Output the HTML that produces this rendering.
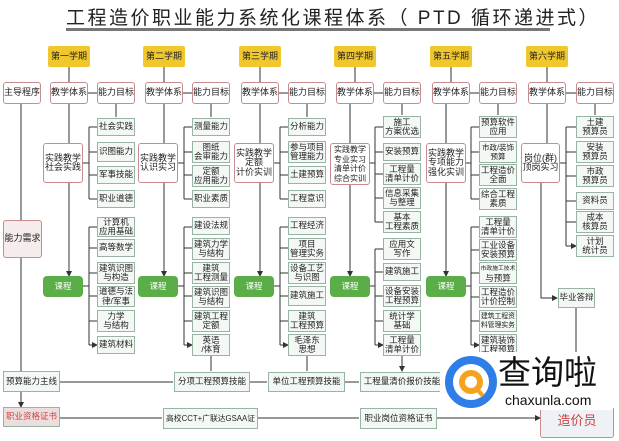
<!DOCTYPE html>
<html><head><meta charset="utf-8"><style>
body{margin:0;width:619px;height:441px;background:#fff;position:relative;overflow:hidden;font-family:"Liberation Sans","Noto Sans CJK SC",sans-serif;}
div.b{position:absolute;box-sizing:border-box;display:flex;align-items:center;justify-content:center;text-align:center;font-size:8.5px;line-height:9.5px;color:#222;white-space:nowrap;overflow:hidden;}
.p{border:1px solid #c98c8c;border-radius:3px;background:#fff;font-size:9px!important;}
.q{border:1px solid #98b4a3;background:#f4f8f5;}
.y{background:#f1c72e;border-radius:2px;font-size:9px!important;}
.c{background:#5aad47;color:#fff!important;border-radius:4px;}
svg{position:absolute;left:0;top:0}
</style></head><body>
<div style="position:absolute;left:66px;top:3px;width:490px;text-align:center;font-size:19px;letter-spacing:2.5px;color:#222;white-space:nowrap">工程造价职业能力系统化课程体系（ PTD 循环递进式）</div>
<div style="position:absolute;left:66px;top:28px;width:484px;height:3px;background:#777"></div>
<svg width="619" height="441"><defs><marker id="a" markerWidth="6" markerHeight="6" refX="5" refY="3" orient="auto"><path d="M0,0L6,3L0,6z" fill="#333"/></marker></defs>
<g stroke="#333" stroke-width="1" fill="none">
<g id="c0">
<path d="M69 67V82M88 93H97M116 104V117M69 104V143M69 183V276" marker-end="url(#a)"/>
<path d="M83 163H89M89 127V199M83 286H89M89 227V345"/>
<path d="M89 127H97M89 152H97M89 175H97M89 199H97M89 227H97M89 248H97M89 273H97M89 296H97M89 321H97M89 345H97" marker-end="url(#a)"/>
</g>
<use href="#c0" x="95"/><use href="#c0" x="191"/>
<path d="M211 356V371M307 356V371M402 356V371" marker-end="url(#a)"/>
<path d="M355 67V82M374 93H383M402 104V115M350 104V143M350 185V276" marker-end="url(#a)"/>
<path d="M370 163H375M375 127V222M370 286H375M375 249V345"/>
<path d="M375 127H383M375 152H383M375 174H383M375 198H383M375 222H383M375 249H383M375 272H383M375 296H383M375 321H383M375 345H383" marker-end="url(#a)"/>
<path d="M451 67V82M470 93H479M498 104V115M446 104V143M446 183V276" marker-end="url(#a)"/>
<path d="M466 163H471M471 127V199M466 286H471M471 227V345"/>
<path d="M471 127H479M471 152H479M471 175H479M471 199H479M471 227H479M471 250H479M471 273H479M471 297H479M471 321H479M471 345H479" marker-end="url(#a)"/>
<path d="M547 67V82M566 93H576M595 104V115M547 104V143M541 183V298H557" marker-end="url(#a)"/>
<path d="M560 163H566M566 127V246M576 308V372"/>
<path d="M566 127H576M566 152H576M566 176H576M566 201H576M566 222H576M566 246H576" marker-end="url(#a)"/>
<path d="M21 104V220M21 258V371M21 392V407" marker-end="url(#a)"/>
<path d="M60 382H173M250 382H267M345 382H359M444 382H470M60 418H162M258 418H359M437 418H540" marker-end="url(#a)"/>
</g></svg>

<div class="b p" style="left:3px;top:82px;width:38px;height:22px">主导程序</div>
<div class="b p" style="left:3px;top:220px;width:39px;height:38px;background:#f6ecec">能力需求</div>
<div class="b q" style="left:3px;top:371px;width:57px;height:21px">预算能力主线</div>
<div class="b q" style="left:3px;top:407px;width:57px;height:20px;color:#c44;background:#ecdede">职业资格证书</div>
<div class="b q" style="left:174px;top:372px;width:76px;height:20px">分项工程预算技能</div>
<div class="b q" style="left:268px;top:372px;width:77px;height:20px">单位工程预算技能</div>
<div class="b q" style="left:360px;top:372px;width:84px;height:20px">工程量清价报价技能</div>
<div class="b q" style="left:575px;top:372px;width:40px;height:20px">施工员</div>
<div class="b q" style="left:163px;top:408px;width:95px;height:21px;font-size:7.8px">高校CCT+广联达GSAA证</div>
<div class="b q" style="left:360px;top:408px;width:77px;height:21px">职业岗位资格证书</div>
<div class="b p" style="left:540px;top:404px;width:74px;height:34px;color:#c44;font-size:13px!important;background:#eef2f6">造价员</div>

<div class="b y" style="left:48px;top:46px;width:42px;height:21px">第一学期</div>
<div class="b y" style="left:143px;top:46px;width:42px;height:21px">第二学期</div>
<div class="b y" style="left:239px;top:46px;width:42px;height:21px">第三学期</div>
<div class="b y" style="left:334px;top:46px;width:42px;height:21px">第四学期</div>
<div class="b y" style="left:430px;top:46px;width:42px;height:21px">第五学期</div>
<div class="b y" style="left:526px;top:46px;width:42px;height:21px">第六学期</div>

<div class="b p" style="left:50px;top:82px;width:38px;height:22px">教学体系</div>
<div class="b p" style="left:97px;top:82px;width:38px;height:22px">能力目标</div>
<div class="b p" style="left:145px;top:82px;width:38px;height:22px">教学体系</div>
<div class="b p" style="left:192px;top:82px;width:38px;height:22px">能力目标</div>
<div class="b p" style="left:241px;top:82px;width:38px;height:22px">教学体系</div>
<div class="b p" style="left:288px;top:82px;width:38px;height:22px">能力目标</div>
<div class="b p" style="left:336px;top:82px;width:38px;height:22px">教学体系</div>
<div class="b p" style="left:383px;top:82px;width:38px;height:22px">能力目标</div>
<div class="b p" style="left:432px;top:82px;width:38px;height:22px">教学体系</div>
<div class="b p" style="left:479px;top:82px;width:38px;height:22px">能力目标</div>
<div class="b p" style="left:528px;top:82px;width:38px;height:22px">教学体系</div>
<div class="b p" style="left:576px;top:82px;width:38px;height:22px">能力目标</div>

<div class="b p" style="left:43px;top:143px;width:40px;height:40px">实践教学<br>社会实践</div>
<div class="b p" style="left:138px;top:143px;width:40px;height:40px">实践教学<br>认识实习</div>
<div class="b p" style="left:234px;top:143px;width:40px;height:40px">实践教学<br>定额<br>计价实训</div>
<div class="b p" style="left:330px;top:143px;width:40px;height:42px;font-size:8px!important">实践教学<br>专业实习<br>清单计价<br>综合实训</div>
<div class="b p" style="left:426px;top:143px;width:40px;height:40px">实践教学<br>专项能力<br>强化实训</div>
<div class="b p" style="left:521px;top:143px;width:39px;height:40px">岗位(群)<br>顶岗实习</div>

<div class="b c" style="left:43px;top:276px;width:40px;height:21px">课程</div>
<div class="b c" style="left:138px;top:276px;width:40px;height:21px">课程</div>
<div class="b c" style="left:234px;top:276px;width:40px;height:21px">课程</div>
<div class="b c" style="left:330px;top:276px;width:40px;height:21px">课程</div>
<div class="b c" style="left:426px;top:276px;width:40px;height:21px">课程</div>
<div class="b q" style="left:558px;top:288px;width:37px;height:20px">毕业答辩</div>

<div class="b q" style="left:97px;top:118px;width:38px;height:18px">社会实践</div>
<div class="b q" style="left:97px;top:142px;width:38px;height:20px">识图能力</div>
<div class="b q" style="left:97px;top:166px;width:38px;height:18px">军事技能</div>
<div class="b q" style="left:97px;top:190px;width:38px;height:18px">职业道德</div>
<div class="b q" style="left:97px;top:217px;width:38px;height:20px">计算机<br>应用基础</div>
<div class="b q" style="left:97px;top:239px;width:38px;height:18px">高等数学</div>
<div class="b q" style="left:97px;top:262px;width:38px;height:22px">建筑识图<br>与构造</div>
<div class="b q" style="left:97px;top:286px;width:38px;height:21px">道德与法<br>律/军事</div>
<div class="b q" style="left:97px;top:310px;width:38px;height:22px">力学<br>与结构</div>
<div class="b q" style="left:97px;top:336px;width:38px;height:18px">建筑材料</div>

<div class="b q" style="left:192px;top:118px;width:38px;height:18px">测量能力</div>
<div class="b q" style="left:192px;top:141px;width:38px;height:22px">图纸<br>会审能力</div>
<div class="b q" style="left:192px;top:165px;width:38px;height:22px">定额<br>应用能力</div>
<div class="b q" style="left:192px;top:190px;width:38px;height:18px">职业素质</div>
<div class="b q" style="left:192px;top:217px;width:38px;height:18px">建设法规</div>
<div class="b q" style="left:192px;top:238px;width:38px;height:22px">建筑力学<br>与结构</div>
<div class="b q" style="left:192px;top:262px;width:38px;height:22px">建筑<br>工程测量</div>
<div class="b q" style="left:192px;top:286px;width:38px;height:22px">建筑识图<br>与结构</div>
<div class="b q" style="left:192px;top:310px;width:38px;height:22px">建筑工程<br>定额</div>
<div class="b q" style="left:192px;top:334px;width:38px;height:22px">英语<br>/体育</div>

<div class="b q" style="left:288px;top:118px;width:38px;height:18px">分析能力</div>
<div class="b q" style="left:288px;top:141px;width:38px;height:22px">参与项目<br>管理能力</div>
<div class="b q" style="left:288px;top:166px;width:38px;height:18px">土建预算</div>
<div class="b q" style="left:288px;top:190px;width:38px;height:18px">工程意识</div>
<div class="b q" style="left:288px;top:217px;width:38px;height:18px">工程经济</div>
<div class="b q" style="left:288px;top:238px;width:38px;height:22px">项目<br>管理实务</div>
<div class="b q" style="left:288px;top:262px;width:38px;height:22px">设备工艺<br>与识图</div>
<div class="b q" style="left:288px;top:286px;width:38px;height:20px">建筑施工</div>
<div class="b q" style="left:288px;top:310px;width:38px;height:22px">建筑<br>工程预算</div>
<div class="b q" style="left:288px;top:334px;width:38px;height:22px">毛泽东<br>思想</div>

<div class="b q" style="left:383px;top:116px;width:38px;height:22px">施工<br>方案优选</div>
<div class="b q" style="left:383px;top:143px;width:38px;height:18px">安装预算</div>
<div class="b q" style="left:383px;top:163px;width:38px;height:22px">工程量<br>清单计价</div>
<div class="b q" style="left:383px;top:187px;width:38px;height:22px">信息采集<br>与整理</div>
<div class="b q" style="left:383px;top:211px;width:38px;height:22px">基本<br>工程素质</div>
<div class="b q" style="left:383px;top:238px;width:38px;height:22px">应用文<br>写作</div>
<div class="b q" style="left:383px;top:263px;width:38px;height:18px">建筑施工</div>
<div class="b q" style="left:383px;top:285px;width:38px;height:22px">设备安装<br>工程预算</div>
<div class="b q" style="left:383px;top:310px;width:38px;height:22px">统计学<br>基础</div>
<div class="b q" style="left:383px;top:334px;width:38px;height:22px">工程量<br>清单计价</div>

<div class="b q" style="left:479px;top:116px;width:38px;height:22px">预算软件<br>应用</div>
<div class="b q" style="left:479px;top:141px;width:38px;height:22px;font-size:7.5px">市政/装饰<br>预算</div>
<div class="b q" style="left:479px;top:164px;width:38px;height:22px">工程造价<br>全面</div>
<div class="b q" style="left:479px;top:188px;width:38px;height:22px">综合工程<br>素质</div>
<div class="b q" style="left:479px;top:216px;width:38px;height:22px">工程量<br>清单计价</div>
<div class="b q" style="left:479px;top:239px;width:38px;height:22px">工业设备<br>安装预算</div>
<div class="b q" style="left:479px;top:262px;width:38px;height:22px"><div><span style="font-size:5.8px">市政施工技术</span><br>与预算</div></div>
<div class="b q" style="left:479px;top:286px;width:38px;height:22px">工程造价<br>计价控制</div>
<div class="b q" style="left:479px;top:310px;width:38px;height:22px;font-size:6.8px">建筑工程资<br>料管理实务</div>
<div class="b q" style="left:479px;top:334px;width:38px;height:22px">建筑装饰<br>工程预算</div>

<div class="b q" style="left:576px;top:116px;width:38px;height:22px">土建<br>预算员</div>
<div class="b q" style="left:576px;top:141px;width:38px;height:22px">安装<br>预算员</div>
<div class="b q" style="left:576px;top:165px;width:38px;height:22px">市政<br>预算员</div>
<div class="b q" style="left:576px;top:192px;width:38px;height:18px">资料员</div>
<div class="b q" style="left:576px;top:211px;width:38px;height:22px">成本<br>核算员</div>
<div class="b q" style="left:576px;top:235px;width:38px;height:22px">计划<br>统计员</div>

<div style="position:absolute;left:440px;top:352px;width:175px;height:58px;background:#fff;border-radius:6px"></div>
<svg width="619" height="441" style="pointer-events:none">
<circle cx="471" cy="382" r="22" fill="none" stroke="#2f7ee8" stroke-width="8"/>
<circle cx="471" cy="382" r="12" fill="#f6a21e"/>
<circle cx="471" cy="382" r="6" fill="#fff"/>
<path d="M476 388L483 396" stroke="#f6a21e" stroke-width="4"/>
</svg>
<div style="position:absolute;left:498px;top:350px;font-size:33px;color:#111;font-family:'Noto Sans CJK SC',sans-serif;line-height:40px;white-space:nowrap">查询啦</div>
<div style="position:absolute;left:505px;top:392px;font-size:14px;color:#111;white-space:nowrap">chaxunla.com</div>
</body></html>
